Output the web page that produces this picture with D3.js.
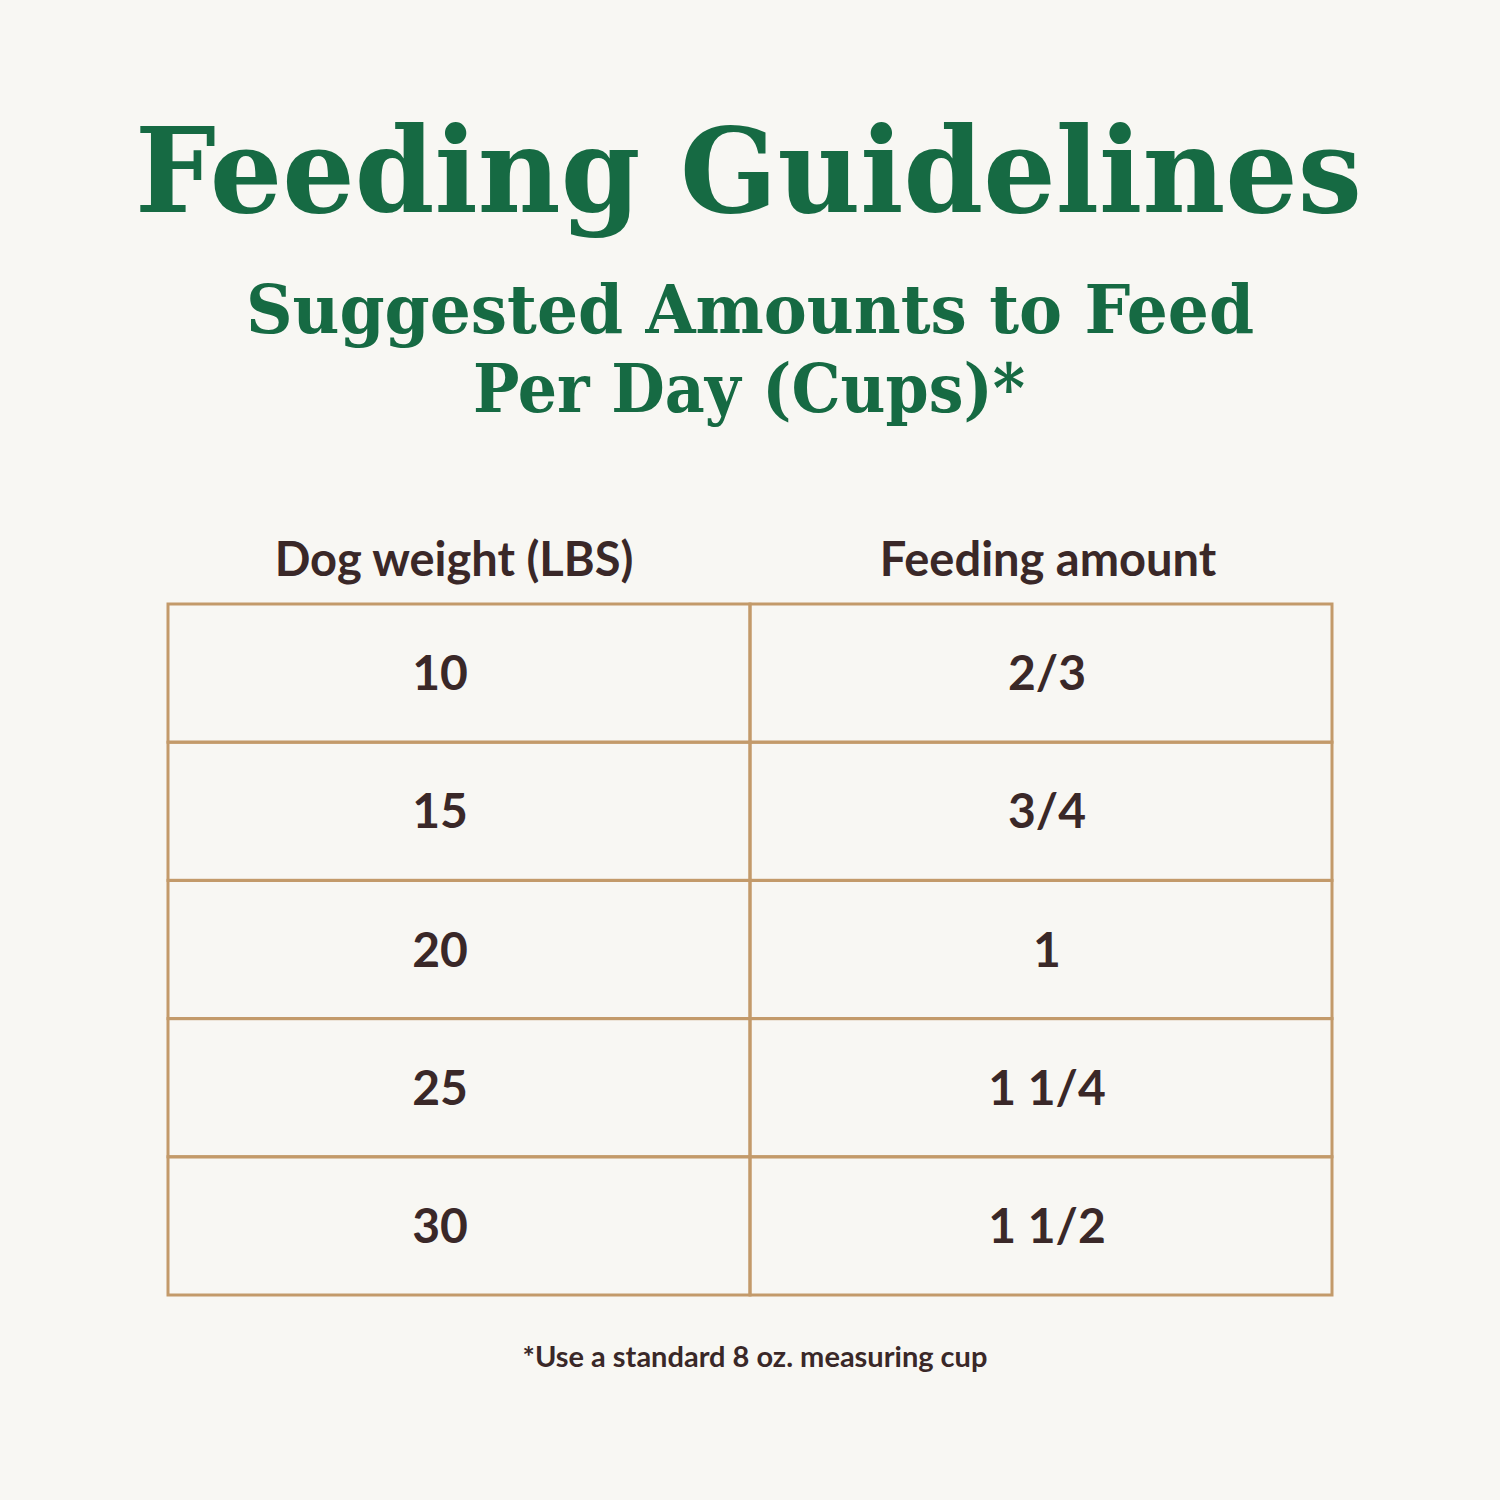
<!DOCTYPE html>
<html><head><meta charset="utf-8">
<script src="https://cdn.jsdelivr.net/npm/d3@7"></script>
<style>body{margin:0;background:#f8f7f3}</style></head>
<body><script>
const weights = ["10","15","20","25","30"];
const amounts = ["2/3","3/4","1","1 1/4","1 1/2"];
const headers = ["Dog weight (LBS)","Feeding amount"];
const title = "Feeding Guidelines";
const subtitle = ["Suggested Amounts to Feed","Per Day (Cups)*"];
const footnote = "*Use a standard 8 oz. measuring cup";

const W=1500,H=1500;
const svg=d3.select("body").append("svg").attr("width",W).attr("height",H);
svg.append("rect").attr("width",W).attr("height",H).attr("fill","#f8f7f3");
const green="#166a43", brown="#3a2828", tan="#c39a6a";
const serif="'DejaVu Serif', 'Liberation Serif', serif";
const sans="Lato, 'Open Sans', sans-serif";

svg.append("text").attr("x",135).attr("y",212).attr("textLength",1227).attr("lengthAdjust","spacingAndGlyphs")
  .attr("font-family",serif).attr("font-weight",700).attr("font-size",118).attr("fill",green).text(title);
const subX=[[246,1008],[473,552]];
subtitle.forEach((s,i)=>svg.append("text").attr("x",subX[i][0]).attr("y",333+i*79)
  .attr("textLength",subX[i][1]).attr("lengthAdjust","spacingAndGlyphs")
  .attr("font-family",serif).attr("font-weight",700).attr("font-size",68).attr("fill",green).text(s));

const x=d3.scaleBand().domain([0,1]).range([168,1332]);
const y=d3.scaleBand().domain(weights).range([604,1295]);
const cx=[440,1047];
headers.forEach((h,i)=>svg.append("text").attr("x",[454,1048][i]).attr("y",576).attr("text-anchor","middle")
  .attr("font-family",sans).attr("font-weight",700).attr("font-size",47).attr("fill",brown).text(h));

const g=svg.append("g");
weights.forEach((w,r)=>{
  [0,1].forEach(c=>{
    g.append("rect").attr("x",x(c)).attr("y",y(w)).attr("width",x.bandwidth()).attr("height",y.bandwidth())
      .attr("fill","none").attr("stroke",tan).attr("stroke-width",3);
    g.append("text").attr("x",cx[c]).attr("y",y(w)+y.bandwidth()/2+17).attr("text-anchor","middle")
      .attr("font-family",sans).attr("font-weight",700).attr("font-size",48).attr("fill",brown)
      .text(c===0?w:amounts[r]);
  });
});
svg.append("text").attr("x",755).attr("y",1367).attr("text-anchor","middle")
  .attr("font-family",sans).attr("font-weight",700).attr("font-size",29).attr("fill",brown).text(footnote);
</script></body></html>
